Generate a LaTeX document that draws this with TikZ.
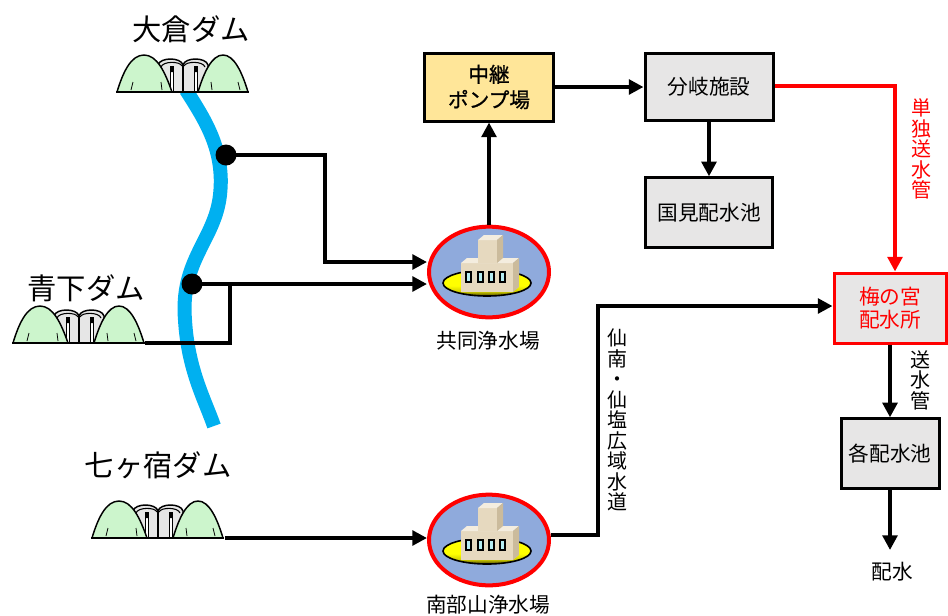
\documentclass[tikz,border=0pt]{standalone}
\usepackage{fontspec}
\setmainfont{Noto Sans CJK JP}
\newfontfamily\pumpfont[FakeBold=0.9]{Noto Sans CJK JP}
\usetikzlibrary{arrows.meta,shapes.geometric,calc}

\definecolor{riverblue}{HTML}{00B0F0}
\definecolor{plantblue}{HTML}{8FAADC}
\definecolor{pumpyellow}{HTML}{FFE699}
\definecolor{boxgray}{HTML}{E7E6E6}
\definecolor{gatefill}{HTML}{E6E6E6}
\definecolor{hillgreen}{HTML}{CCF5CC}
\definecolor{olivedark}{HTML}{4A4300}
\definecolor{bfront}{HTML}{E6D9BF}
\definecolor{btop}{HTML}{F4EDDF}
\definecolor{bside}{HTML}{CBBB9C}
\definecolor{wincyan}{HTML}{B5EEF4}

% yellow pad: bright on top, darkening towards the lower rim
\pgfdeclareverticalshading{padshade}{100bp}{
  color(0bp)=(olivedark); color(25bp)=(olivedark); color(34bp)=(yellow!75!olivedark);
  color(45bp)=(yellow); color(75bp)=(yellow); color(100bp)=(yellow)}

\tikzset{
  % dam icon: two hills around an arched gate, origin at the base centre
  dampic/.pic={
    \path[fill=gatefill,draw=black,line width=1.1pt] (-25,0) -- (-25,-27)
      .. controls (-23,-35) and (-2,-35) .. (0,-27)
      .. controls (2,-35) and (23,-35) .. (25,-27) -- (25,0) -- cycle;
    \draw[line width=0.8pt] (-22,-25) .. controls (-20,-31) and (-3,-31) .. (-1,-26)
      (1,-26) .. controls (3,-31) and (20,-31) .. (22,-25);
    \draw[line width=1.6pt] (0,-27) -- (0,0);
    \draw[line width=0.6pt,fill=white] (-13,-26) rectangle (-10,0) (11,-26) rectangle (14,0);
    \fill (-13,-26) rectangle (-10,-20) (11,-26) rectangle (14,-20);
    \draw[fill=hillgreen,line width=1.1pt] (-66,0) .. controls (-60,-20) and (-52,-37) .. (-39,-37)
      .. controls (-26,-37) and (-18,-20) .. (-11,0) -- cycle;
    \draw[fill=hillgreen,line width=1.1pt] (15,0) .. controls (21,-20) and (29,-37) .. (40,-37)
      .. controls (51,-37) and (59,-20) .. (65,0) -- cycle;
    \draw[line width=0.6pt] (-52,-2) -- (-50,-10) (-21,-2) -- (-22,-10)
      (29,-2) -- (28,-10) (57,-2) -- (55,-10);
    \draw[line width=1.6pt] (-67,0) -- (66,0);
  },
  % purification plant: building on a yellow pad, origin at the ellipse centre
  plantpic/.pic={
    \shade[shading=padshade] (-2,11) ellipse [x radius=44,y radius=13];
    \draw[line width=1.2pt] (-2,11) ellipse [x radius=44,y radius=13];
    \fill[bfront] (-28,-9) rectangle (24,20);
    \fill[btop] (-28,-9) -- (-22,-14) -- (30,-14) -- (24,-9) -- cycle;
    \fill[bside] (24,-9) -- (30,-14) -- (30,15) -- (24,20) -- cycle;
    \fill[bfront] (-11,-32) rectangle (8,-9);
    \fill[btop] (-11,-32) -- (-5,-37) -- (14,-37) -- (8,-32) -- cycle;
    \fill[bside] (8,-32) -- (14,-37) -- (14,-14) -- (8,-9) -- cycle;
    \draw[fill=wincyan,line width=0.8pt] (-23,0) rectangle (-18,10) (-11,0) rectangle (-6,10)
      (0,0) rectangle (5,10) (11,0) rectangle (16,10);
  }
}

\begin{document}
\begin{tikzpicture}[x=0.75pt,y=-0.75pt,
  flow/.style={line width=3pt,-{Triangle[length=11pt,width=11pt]}},
  pipe/.style={line width=3pt},
  box/.style={draw=black,line width=2.25pt,fill=boxgray,inner sep=0pt,align=center,
    font=\fontsize{15.5}{18}\selectfont},
  plant/.style={ellipse,draw=red,line width=3pt,fill=plantblue,minimum width=90pt,
    minimum height=68pt,inner sep=0pt},
  lbl/.style={font=\fontsize{15.5}{18}\selectfont,inner sep=0pt},
  damlbl/.style={font=\fontsize{22}{24}\selectfont,inner sep=0pt},
  vlbl/.style={font=\fontsize{15}{15.4}\selectfont,align=center,inner sep=0pt},
  dot/.style={circle,fill=black,minimum size=15.75pt,inner sep=0pt},
]
\useasboundingbox (0,0) rectangle (948,615);

% river
\draw[riverblue,line width=10.5pt] (186,90) .. controls (205,120) and (225,150) .. (220,195)
  .. controls (215,240) and (180,260) .. (185,320)
  .. controls (188,370) and (205,400) .. (214,426);

% dams
\pic at (183,92) {dampic};
\pic at (79,343) {dampic};
\pic at (158,538) {dampic};
\node[damlbl] (okuraL) at (191,29) {大倉ダム};
\node[damlbl] (aoshitaL) at (86,288) {青下ダム};
\node[damlbl] (shichiL) at (158,465) {七ヶ宿ダム};
\coordinate (aoR) at (145,343);
\coordinate (skR) at (225,538);

% plants
\node[plant] (kyodo) at (489,272) {};
\pic at (kyodo.center) {plantpic};
\node[lbl] (kyodoL) at (488,341) {共同浄水場};
\node[plant] (nanbu) at (489,540) {};
\pic at (nanbu.center) {plantpic};
\node[lbl] (nanbuL) at (488,605) {南部山浄水場};

% facilities
\node[box,fill=pumpyellow,minimum width=96.75pt,minimum height=51pt,
  font=\fontsize{15.5}{19}\selectfont\pumpfont] (pump) at (489,87) {中継\\ポンプ場};
\node[box,minimum width=96pt,minimum height=50pt] (bunki) at (709,87) {分岐施設};
\node[box,minimum width=95.25pt,minimum height=52pt] (kunimi) at (709,212.5) {国見配水池};
\node[box,draw=red,text=red,minimum width=84pt,minimum height=52.5pt,
  font=\fontsize{15.5}{17.5}\selectfont] (ume) at (890,308) {梅の宮\\配水所};
\node[box,minimum width=73.5pt,minimum height=52pt] (kaku) at (890,453.5) {各配水池};
\node[lbl] (haisui) at (892,572) {配水};

% intake points on the river
\node[dot] (dot1) at (226,155) {};
\node[dot] (dot2) at (192,284) {};

% bend points
\coordinate (k1) at (325,155);
\coordinate (k2) at (325,262);
\coordinate (k3) at (230,343);
\coordinate (rc) at (895,86);
\coordinate (m1) at (598,535);
\coordinate (m2) at (598,306);
\coordinate (kend) at (890,550);

% connectors
\draw[flow] (dot1.center) -- (k1) -- (k2) -- (k2 -| kyodo.west);
\draw[flow] (dot2.center) -- (dot2 -| kyodo.west);
\draw[pipe] (aoR) -- (k3) -- (k3 |- dot2);
\draw[flow] (skR) -- (skR -| nanbu.west);
\draw[flow] (kyodo.north) -- (pump.south);
\draw[flow] (pump.east |- bunki.west) -- (bunki.west);
\draw[flow] (bunki.south) -- (kunimi.north);
\draw[flow,red] (bunki.east |- rc) -- (rc) -- (rc |- ume.north);
\draw[flow] (m1 -| nanbu.east) -- (m1) -- (m2) -- (m2 -| ume.west);
\draw[flow] (ume.south) -- (kaku.north);
\draw[flow] (kaku.south) -- (kend);

% pipe labels
\node[vlbl,text=red] (tandoku) at (921,149) {単\\独\\送\\水\\管};
\node[vlbl] (sousui) at (920,380) {送\\水\\管};
\node[vlbl] (sennan) at (617,420) {仙\\南\\・\\仙\\塩\\広\\域\\水\\道};
\end{tikzpicture}
\end{document}
